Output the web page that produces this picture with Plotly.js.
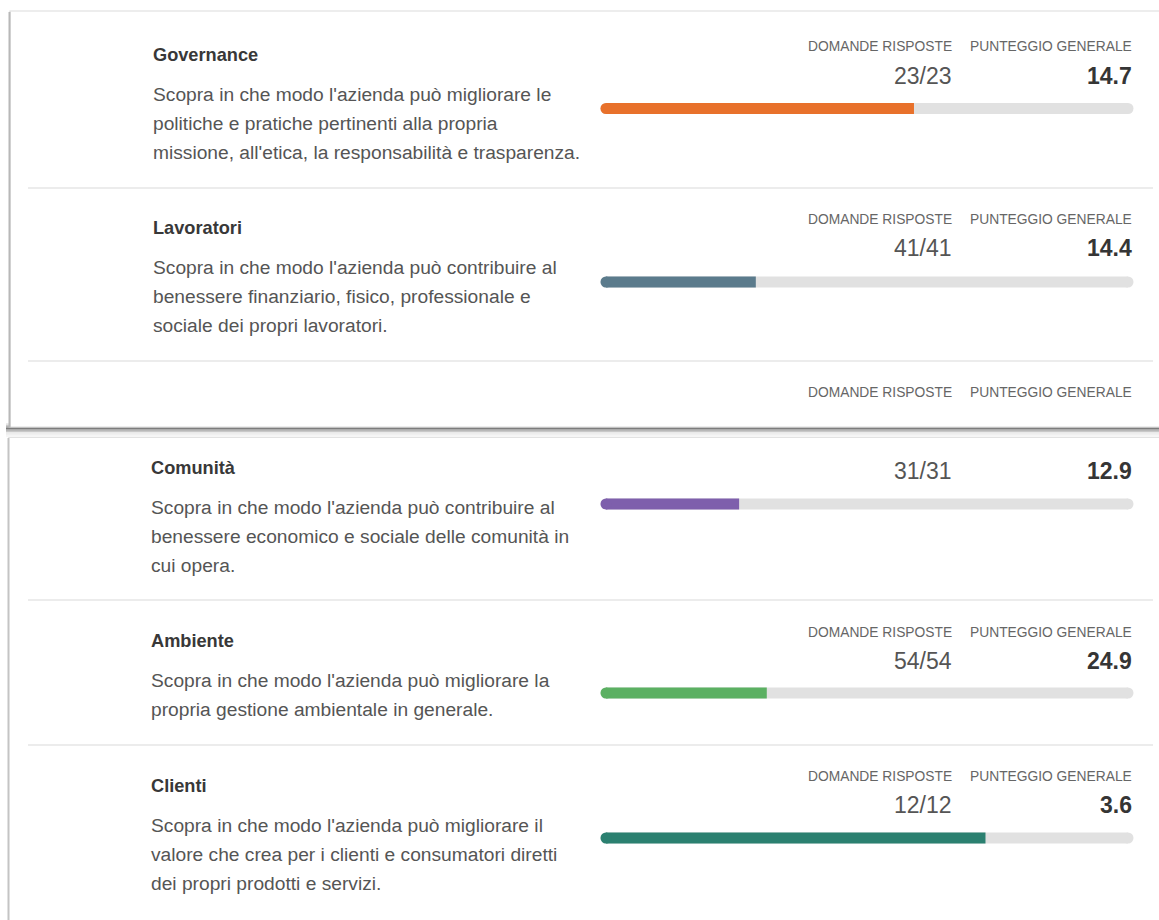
<!DOCTYPE html>
<html>
<head>
<meta charset="utf-8">
<script src="https://cdn.plot.ly/plotly-3.0.1.min.js"></script>
<style>
  html, body { margin: 0; padding: 0; background: #ffffff; }
  #chart { width: 1159px; height: 920px; }
</style>
</head>
<body>
<div id="chart"></div>
<script>
// ---------------- DATA ----------------
const categories = ['Governance', 'Lavoratori', 'Comunità', 'Ambiente', 'Clienti'];
const descriptions = [
  ["Scopra in che modo l'azienda può migliorare le", "politiche e pratiche pertinenti alla propria", "missione, all'etica, la responsabilità e trasparenza."],
  ["Scopra in che modo l'azienda può contribuire al", "benessere finanziario, fisico, professionale e", "sociale dei propri lavoratori."],
  ["Scopra in che modo l'azienda può contribuire al", "benessere economico e sociale delle comunità in", "cui opera."],
  ["Scopra in che modo l'azienda può migliorare la", "propria gestione ambientale in generale."],
  ["Scopra in che modo l'azienda può migliorare il", "valore che crea per i clienti e consumatori diretti", "dei propri prodotti e servizi."]
];
const answered = ['23/23', '41/41', '31/31', '54/54', '12/12'];
const scores = [14.7, 14.4, 12.9, 24.9, 3.6];
const progress = [59.0, 28.7, 25.5, 30.8, 72.7];   // % of bar filled
const barColors = ['#E8712B', '#5B7B8C', '#7E5FAC', '#5BB062', '#2B8070'];
const headerAnswered = 'DOMANDE RISPOSTE';
const headerScore = 'PUNTEGGIO GENERALE';

// ---------------- LAYOUT POSITIONS (pixels) ----------------
const W = 1159, H = 920;
const rowTitleY = [55, 228, 468, 641, 786];
const rowTitleX = [153, 153, 151, 151, 151];
const rowDescY0 = [94, 267, 507, 680, 825];
const descLineH = 29;
const rowHeaderY = [46, 219, 392, 632, 776];
const rowValueY = [76, 248, 471, 661, 805];
const rowBarY = [108.5, 282, 504, 693, 838];
const separatorsY = [188, 361, 600, 745];
const colAnsweredX = 952, colScoreX = 1132;
const barStartPx = 606, barEndPx = 1128, barThick = 11;

const FONT = 'Liberation Sans, Arial, Helvetica, sans-serif';
const px = v => v / W;

const traces = [];
categories.forEach((c, i) => {
  // track
  traces.push({
    type: 'scatter', mode: 'lines+markers', x: [0, 100], y: [rowBarY[i], rowBarY[i]],
    line: { color: '#E1E1E1', width: barThick }, marker: { color: '#E1E1E1', size: barThick },
    cliponaxis: false, hoverinfo: 'skip', showlegend: false
  });
  // filled part
  traces.push({
    type: 'scatter', mode: 'lines', x: [0, progress[i]], y: [rowBarY[i], rowBarY[i]],
    line: { color: barColors[i], width: barThick }, cliponaxis: false,
    name: c, hovertemplate: c + ': %{x}%<extra></extra>', showlegend: false
  });
  traces.push({
    type: 'scatter', mode: 'markers', x: [0], y: [rowBarY[i]], cliponaxis: false,
    marker: { color: barColors[i], size: barThick }, hoverinfo: 'skip', showlegend: false
  });
});

const ann = (x, y, text, anchor, size, color) => ({
  xref: 'paper', yref: 'y', x: px(x), y: y, xanchor: anchor, yanchor: 'middle',
  text: text, showarrow: false, borderpad: 0, borderwidth: 0,
  font: { family: FONT, size: size, color: color }
});

const annotations = [];
categories.forEach((c, i) => {
  annotations.push(ann(rowTitleX[i], rowTitleY[i], '<b>' + c + '</b>', 'left', 18.2, '#383838'));
  descriptions[i].forEach((line, k) => {
    annotations.push(ann(rowTitleX[i], rowDescY0[i] + k * descLineH, line, 'left', 19.2, '#555555'));
  });
  annotations.push(ann(colAnsweredX, rowHeaderY[i], headerAnswered, 'right', 13.8, '#666666'));
  annotations.push(ann(colScoreX, rowHeaderY[i], headerScore, 'right', 13.8, '#666666'));
  annotations.push(ann(colAnsweredX, rowValueY[i], answered[i], 'right', 23, '#555555'));
  annotations.push(ann(colScoreX, rowValueY[i], '<b>' + scores[i].toFixed(1) + '</b>', 'right', 23, '#353535'));
});

const shapes = [];
// top card shadow below
const shadow = [[424, '#e4e4e4'], [425.5, '#c9c9c9'], [427, '#a0a0a0'], [428.5, '#7c7c7c'], [430, '#9a9a9a'], [431.5, '#c8c8c8'], [433, '#e6e6e6'], [434.5, '#f0f0f0'], [436, '#f3f3f3']];
shadow.forEach(([y, col]) => shapes.push({ type: 'line', xref: 'paper', yref: 'y', x0: px(6), x1: 1, y0: y, y1: y, line: { color: col, width: 1.6 }, layer: 'below' }));
// top card
shapes.push({ type: 'rect', xref: 'paper', yref: 'y', x0: px(10), x1: 1.01, y0: 11, y1: 427, fillcolor: '#ffffff', line: { color: '#dcdcdc', width: 1.2 }, layer: 'below' });
shapes.push({ type: 'line', xref: 'paper', yref: 'y', x0: px(9.5), x1: px(9.5), y0: 12, y1: 428, line: { color: '#b8b8b8', width: 2 }, layer: 'below' });
// bottom card
shapes.push({ type: 'rect', xref: 'paper', yref: 'y', x0: px(8.5), x1: 1.01, y0: 437.5, y1: 925, fillcolor: '#ffffff', line: { color: '#e2e2e2', width: 1 }, layer: 'below' });
shapes.push({ type: 'line', xref: 'paper', yref: 'y', x0: px(8.5), x1: px(8.5), y0: 438, y1: 920, line: { color: '#c4c4c4', width: 2 }, layer: 'below' });
// separators
separatorsY.forEach(y => shapes.push({ type: 'line', xref: 'paper', yref: 'y', x0: px(28), x1: px(1153), y0: y, y1: y, line: { color: '#e6e6e6', width: 1.5 }, layer: 'below' }));

const layout = {
  width: W, height: H,
  margin: { l: 0, r: 0, t: 0, b: 0 },
  paper_bgcolor: '#ffffff', plot_bgcolor: 'rgba(0,0,0,0)',
  showlegend: false,
  xaxis: { domain: [px(barStartPx), px(barEndPx)], range: [0, 100], visible: false, fixedrange: true },
  yaxis: { domain: [0, 1], range: [H, 0], visible: false, fixedrange: true },
  annotations: annotations,
  shapes: shapes,
  font: { family: FONT }
};

Plotly.newPlot('chart', traces, layout, { displayModeBar: false, staticPlot: true });
</script>
</body>
</html>
